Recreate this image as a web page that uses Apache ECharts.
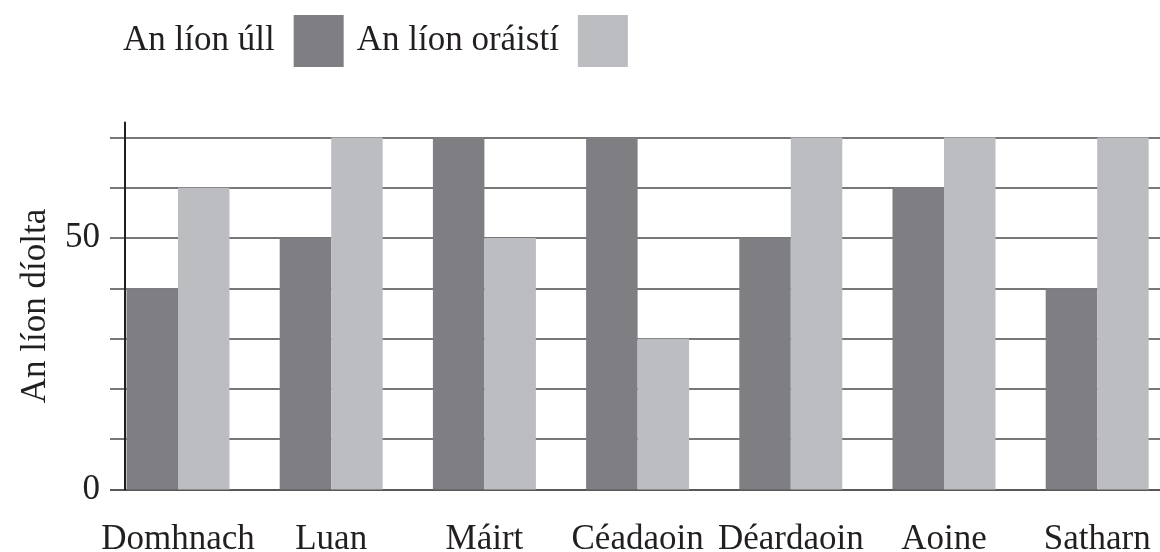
<!DOCTYPE html>
<html>
<head>
<meta charset="utf-8">
<script src="https://cdn.jsdelivr.net/npm/echarts@6/dist/echarts.min.js"></script>
<style>
  html, body { margin: 0; padding: 0; background: #fff; }
  #chart { width: 1160px; height: 552px; }
</style>
</head>
<body>
<div id="chart"></div>
<script>
// data
const days = ["Domhnach", "Luan", "Máirt", "Céadaoin", "Déardaoin", "Aoine", "Satharn"]
const apples = [40, 50, 70, 70, 50, 60, 40]
const oranges = [60, 70, 50, 30, 70, 70, 70]
const yLabels = [0, 50]

const font = "'Liberation Serif', 'Times New Roman', serif"
const darkGrey = "#7f7f83"
const lightGrey = "#bcbdc1"

const chart = echarts.init(document.getElementById("chart"))

chart.setOption({
  animation: false,
  textStyle: { fontFamily: font, color: "#231f20" },
  legend: {
    left: 118,
    top: 10,
    align: "right",
    itemWidth: 50,
    itemHeight: 52,
    itemGap: 13,
    icon: "rect",
    textStyle: { fontFamily: font, fontSize: 35, color: "#231f20", padding: [0, 14, 0, 0] },
    data: ["An líon úll", "An líon oráistí"]
  },
  grid: [
    // bars, the last band runs past the right edge
    { left: 101.4, width: 1072.4, top: 122.4, bottom: 62.5, outerBoundsMode: "none" },
    // gridlines only, they start a little left of the axis
    { left: 110, right: 0, top: 122.4, bottom: 62.5, outerBoundsMode: "none" }
  ],
  xAxis: [
    {
      type: "category",
      gridIndex: 0,
      data: days,
      axisLine: { show: false },
      axisTick: { show: false },
      axisLabel: { fontSize: 35, color: "#231f20", margin: 33, interval: 0 }
    },
    { type: "value", gridIndex: 1, show: false }
  ],
  yAxis: [
    {
      type: "value",
      gridIndex: 0,
      min: 0,
      max: 73,
      interval: 10,
      offset: -23.6,
      name: "An líon díolta",
      nameLocation: "middle",
      nameGap: 72,
      nameTextStyle: { fontSize: 35, color: "#231f20" },
      axisLine: { show: true, lineStyle: { color: "#231f20", width: 2 } },
      axisTick: { show: false },
      splitLine: { show: false },
      axisLabel: {
        fontSize: 35,
        color: "#231f20",
        margin: 25,
        formatter: (v) => (yLabels.includes(v) ? String(v) : "")
      }
    },
    {
      type: "value",
      gridIndex: 1,
      min: 0,
      max: 73,
      interval: 10,
      axisLine: { show: false },
      axisTick: { show: false },
      axisLabel: { show: false },
      splitLine: {
        show: true,
        showMinLine: true,
        showMaxLine: false,
        lineStyle: { color: ["#231f20", "#4a4a4a", "#4a4a4a", "#4a4a4a", "#4a4a4a", "#4a4a4a", "#4a4a4a", "#4a4a4a"], width: 1.6 }
      }
    }
  ],
  series: [
    {
      name: "An líon úll",
      type: "bar",
      xAxisIndex: 0,
      yAxisIndex: 0,
      data: apples,
      barWidth: 51.5,
      barGap: "0%",
      itemStyle: { color: darkGrey }
    },
    {
      name: "An líon oráistí",
      type: "bar",
      xAxisIndex: 0,
      yAxisIndex: 0,
      data: oranges,
      barWidth: 51.5,
      barGap: "0%",
      itemStyle: { color: lightGrey }
    }
  ]
})
</script>
</body>
</html>
